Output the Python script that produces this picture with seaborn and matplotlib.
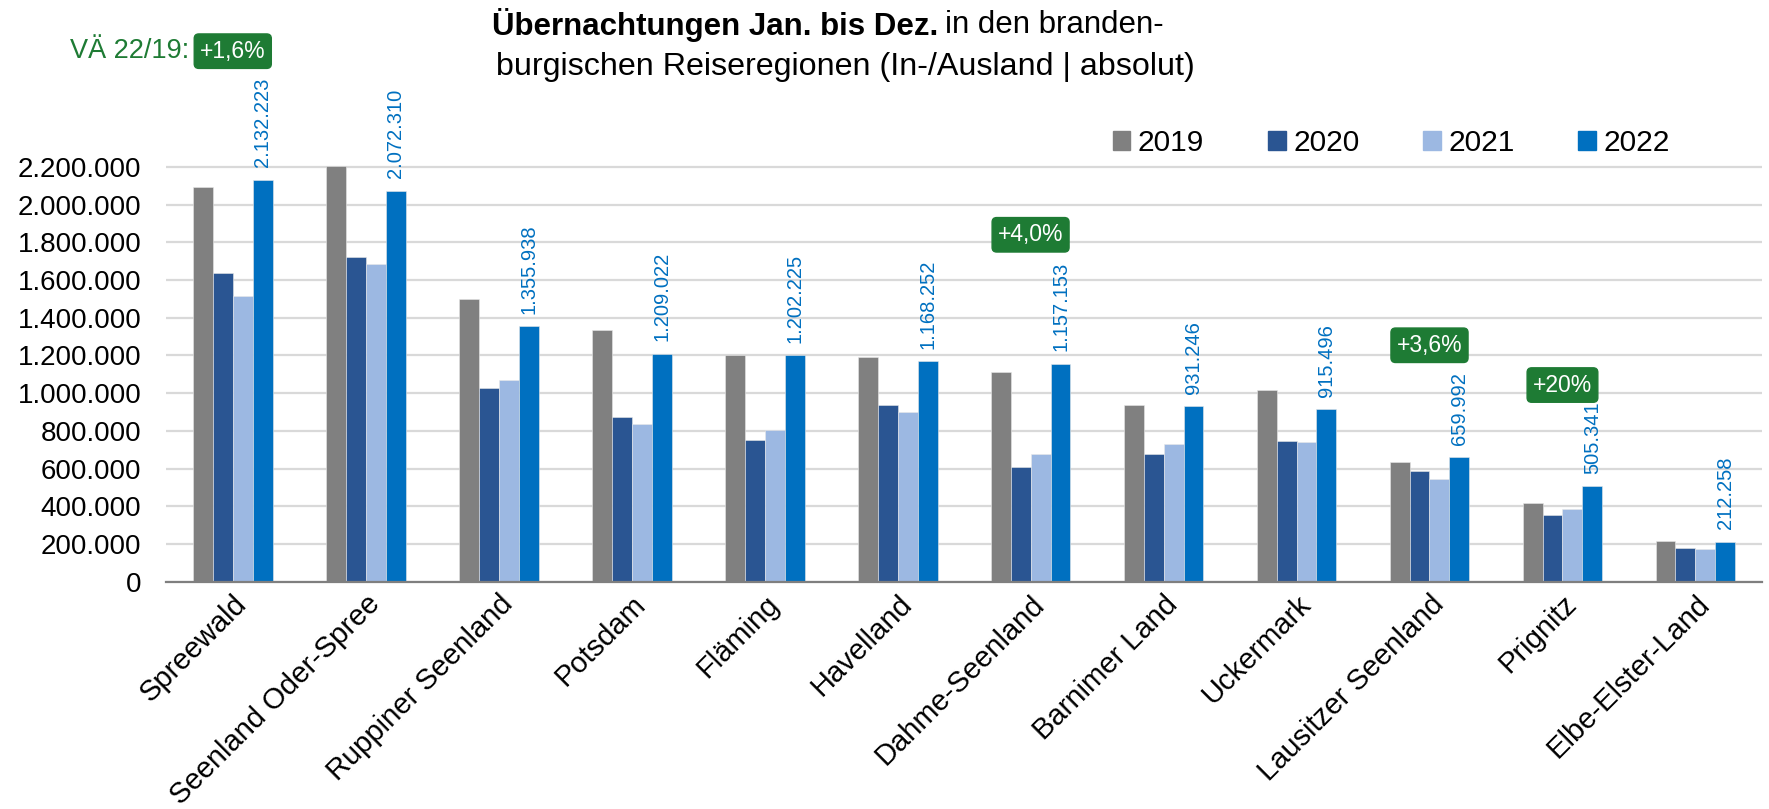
import numpy as np
import pandas as pd
import seaborn as sns
import matplotlib.pyplot as plt
from matplotlib.ticker import FuncFormatter, FixedLocator

# data
regions = ["Spreewald", "Seenland Oder-Spree", "Ruppiner Seenland", "Potsdam",
           "Fläming", "Havelland", "Dahme-Seenland", "Barnimer Land",
           "Uckermark", "Lausitzer Seenland", "Prignitz", "Elbe-Elster-Land"]
years = ["2019", "2020", "2021", "2022"]
v2019 = [2094000, 2203000, 1498000, 1336000, 1201000, 1191000,
         1110000, 938000, 1018000, 634000, 419000, 217000]
v2020 = [1638000, 1723000, 1028000, 873000, 749000, 936000,
         606000, 678000, 746000, 588000, 355000, 177000]
v2021 = [1516000, 1687000, 1072000, 839000, 807000, 899000,
         677000, 730000, 740000, 544000, 388000, 171000]
v2022 = [2132223, 2072310, 1355938, 1209022, 1202225, 1168252,
         1157153, 931246, 915496, 659992, 505341, 212258]

# change 22/19 badges
badge_regions = ["Spreewald", "Dahme-Seenland", "Lausitzer Seenland", "Prignitz"]
badge_texts = ["+1,6%", "+4,0%", "+3,6%", "+20%"]
badge_y = [2814000, 1840000, 1254000, 1043000]

colors = {"2019": "#808080", "2020": "#2A5592", "2021": "#9CB8E2", "2022": "#0070C0"}
green = "#1E7B34"

df = pd.DataFrame({
    "Region": regions * 4,
    "Jahr": np.repeat(years, len(regions)),
    "Wert": v2019 + v2020 + v2021 + v2022,
})

sns.set_style("white")
plt.rcParams['font.family'] = ['Liberation Sans', 'DejaVu Sans']
plt.rcParams['text.color'] = 'black'

fig = plt.figure(figsize=(17.69, 8.09), dpi=100)
ax = fig.add_axes([0.094, 0.281, 0.902, 0.515])

sns.barplot(data=df, x="Region", y="Wert", hue="Jahr", palette=colors,
            width=0.6, saturation=1, errorbar=None, ax=ax, zorder=2,
            linewidth=0.4, edgecolor="#E8E8E8")

ax.set_ylim(0, 2210000)
ax.set_xlim(-0.5, len(regions) - 0.5)
ax.set_yticks(np.arange(0, 2200001, 200000))
ax.yaxis.set_major_formatter(FuncFormatter(lambda v, p: f"{int(v):,}".replace(",", ".")))
ax.yaxis.grid(True, color="#D9D9D9", lw=1.6)
ax.set_axisbelow(True)
ax.set_xlabel("")
ax.set_ylabel("")

for s in ["top", "right", "left"]:
    ax.spines[s].set_visible(False)
ax.spines["bottom"].set_color("#7F7F7F")
ax.spines["bottom"].set_linewidth(1.6)

ax.tick_params(axis="y", length=0, labelsize=20, pad=18, labelcolor="black")
ax.tick_params(axis="x", which="major", length=0, labelsize=21, pad=6, labelcolor="black")
ax.xaxis.set_minor_locator(FixedLocator(np.arange(-0.5, len(regions), 1.0)))
ax.tick_params(axis="x", which="minor", length=11, width=1.3, color="#7F7F7F",
               direction="inout")
plt.setp(ax.get_xticklabels(), rotation=45, ha="right", rotation_mode="anchor")

# value labels on the 2022 bars
for bar in ax.containers[3]:
    h = bar.get_height()
    ax.annotate(f"{int(round(h)):,}".replace(",", "."),
                (bar.get_x() + bar.get_width() / 2, h),
                xytext=(0, 9), textcoords="offset points",
                rotation=90, ha="center", va="bottom",
                fontsize=14.5, color="#0070C0", annotation_clip=False)

# green badges
for reg, txt, y in zip(badge_regions, badge_texts, badge_y):
    xi = regions.index(reg)
    ax.text(xi, y, txt, ha="center", va="center", fontsize=16.5, color="white",
            bbox=dict(boxstyle="round,pad=0.25,rounding_size=0.2", fc=green, ec=green),
            clip_on=False, zorder=5)
ax.text(regions.index("Spreewald") - 0.33, badge_y[0], "VÄ 22/19:", ha="right",
        va="center", fontsize=19.5, color=green, clip_on=False)

# title, first line half bold
t1 = fig.text(0.278, 0.969, "Übernachtungen Jan. bis Dez.", ha="left", va="center",
              fontsize=22.5, fontweight="bold")
fig.canvas.draw()
bb = t1.get_window_extent()
fig.text(bb.x1 / fig.bbox.width + 0.004, 0.969, "in den branden-", ha="left",
         va="center", fontsize=22.5)
fig.text(0.4777, 0.917, "burgischen Reiseregionen (In-/Ausland | absolut)",
         ha="center", va="center", fontsize=23.2)

# legend
ax.get_legend().remove()
handles = [plt.Rectangle((0, 0), 1, 1, color=colors[y]) for y in years]
fig.legend(handles, years, loc="center", bbox_to_anchor=(0.7865, 0.823), ncol=4,
           frameon=False, fontsize=21.5, handlelength=0.6, handleheight=0.6,
           handletextpad=0.25, columnspacing=2.13)

fig.savefig("out.png", dpi=100)
